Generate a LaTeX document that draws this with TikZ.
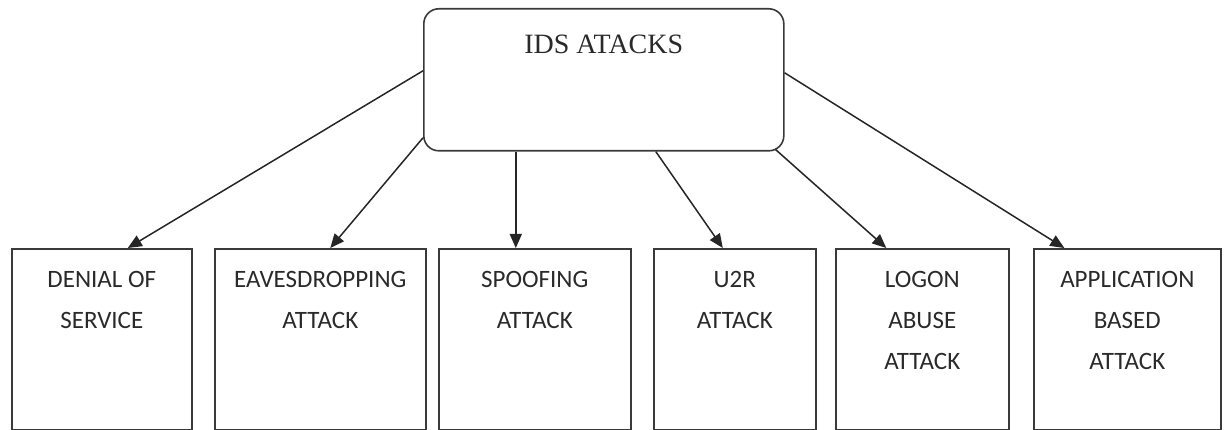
\documentclass[tikz,border=0pt]{standalone}
\usepackage{fontspec}
\setmainfont{Liberation Serif}
\setsansfont{Carlito}
\usetikzlibrary{arrows.meta}
\definecolor{edge}{HTML}{3A3A3A}
\definecolor{txt}{HTML}{2A2A2A}
\newcommand{\boxtxt}[4]{\begin{minipage}[t][#2pt][t]{#1pt}\centering\rule{0pt}{#3pt}#4\end{minipage}}
\tikzset{
  leaf/.style={draw=edge, line width=1.6pt, inner sep=0pt, anchor=north west, text=txt,
    font=\sffamily\fontsize{25}{41}\selectfont},
  root/.style={draw=edge, line width=1.6pt, inner sep=0pt, anchor=north west, rounded corners=15pt,
    text=txt, font=\rmfamily\fontsize{28}{34}\selectfont},
  arr/.style={draw=black!85, line width=1.5pt, -{Triangle[length=14pt,width=12pt]}}
}
\begin{document}
\begin{tikzpicture}[x=1pt,y=-1pt]
\useasboundingbox (0,0) rectangle (1224,430);
\node[root] (ids) at (423,8) {\boxtxt{360}{142}{45}{IDS ATACKS}};
\node[leaf] (b1) at (11,248)   {\boxtxt{180}{181}{39}{DENIAL OF\\SERVICE}};
\node[leaf] (b2) at (214,248)  {\boxtxt{211}{181}{39}{EAVESDROPPING\\ATTACK}};
\node[leaf] (b3) at (438,248)  {\boxtxt{192}{181}{39}{SPOOFING\\ATTACK}};
\node[leaf] (b4) at (653,248)  {\boxtxt{162}{181}{39}{U2R\\ATTACK}};
\node[leaf] (b5) at (835,248)  {\boxtxt{173}{181}{39}{LOGON\\ABUSE\\ATTACK}};
\node[leaf] (b6) at (1033,248) {\boxtxt{187}{181}{39}{APPLICATION\\BASED\\ATTACK}};
\coordinate (t3) at ([xshift=-19pt]b3.north);
\draw[arr] ([yshift=9pt]ids.west) -- ([xshift=26pt]b1.north);
\draw[arr] ([yshift=-58pt]ids.west) -- ([xshift=10pt]b2.north);
\draw[arr] (ids.south -| t3) -- (t3);
\draw[arr] ([xshift=52pt]ids.south) -- ([xshift=-12pt]b4.north);
\draw[arr] ([xshift=-9pt,yshift=2pt]ids.south east) -- ([xshift=-36pt]b5.north);
\draw[arr] ([yshift=7pt]ids.east) -- ([xshift=-63pt]b6.north);
\end{tikzpicture}
\end{document}
